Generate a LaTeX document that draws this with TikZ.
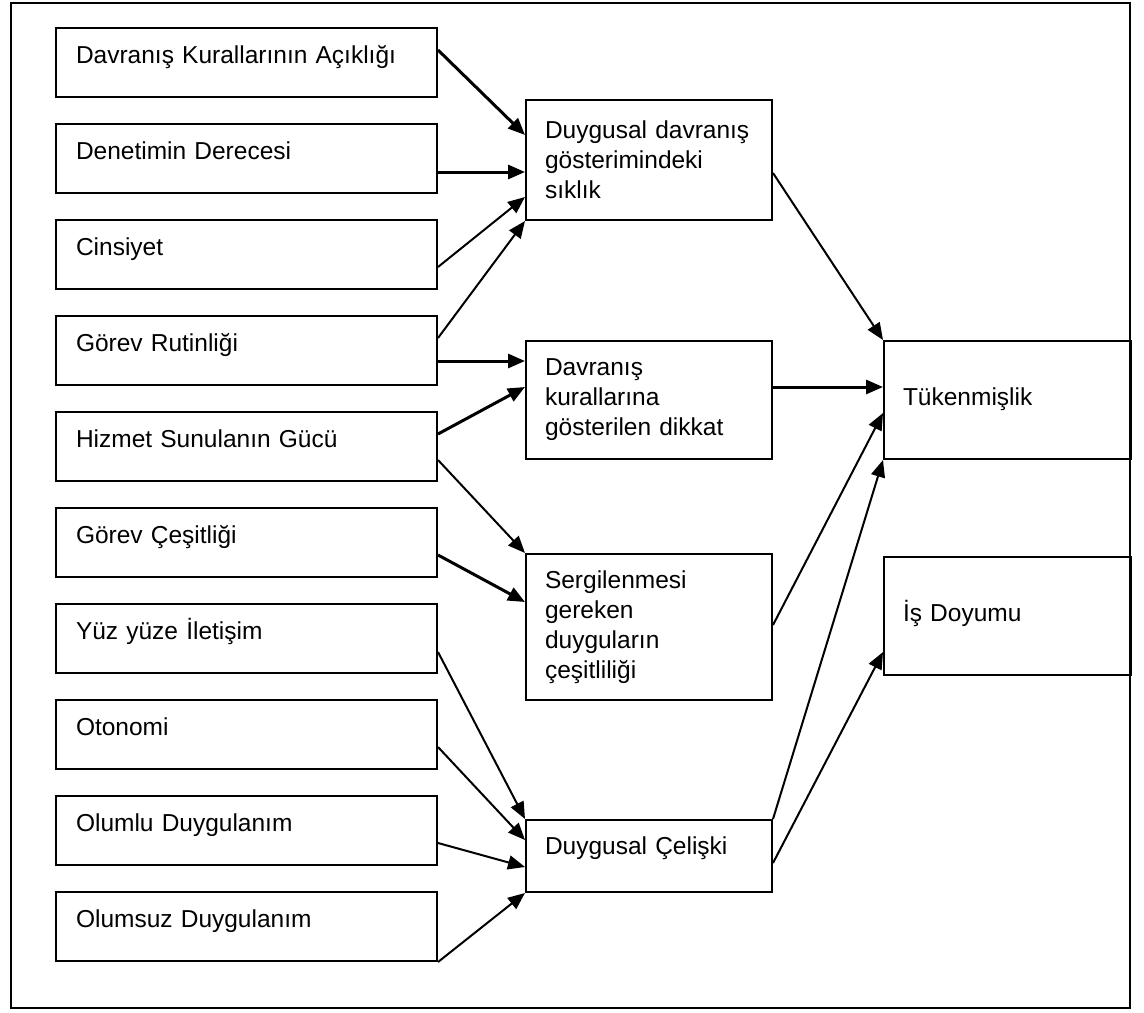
\documentclass[tikz,border=0pt]{standalone}
\usepackage{fontspec}
\setmainfont{Liberation Sans}
\usetikzlibrary{arrows.meta}

\begin{document}
\begin{tikzpicture}[x=0.5pt, y=-0.5pt,
    every node/.style={font=\fontsize{12.25}{15}\selectfont},
    factor/.style={draw, line width=1pt, anchor=north west, align=left,
        text width=170.5pt, inner xsep=10pt, inner ysep=0pt,
        text height=17.5pt, text depth=17pt},
    mediator/.style={draw, line width=1pt, anchor=north west, align=left,
        text width=104pt, inner xsep=9.5pt},
    outcome/.style={draw, line width=1pt, anchor=north west, align=left,
        text width=104.5pt, inner xsep=9.5pt, inner ysep=0pt,
        text height=32pt, text depth=27pt},
    link/.style={-{Triangle[length=8.5pt,width=7pt]}, line width=1pt},
    strong link/.style={link, line width=1.5pt}]

    % Outer frame
    \useasboundingbox (0,0) rectangle (1144,1012);
    \draw[line width=1pt] (11,3) rectangle (1130,1008);

    % Left column: antecedents
    \node[factor] (kural) at (55,27) {Davranış Kurallarının Açıklığı};
    \node[factor] (denetim) at (55,123) {Denetimin Derecesi};
    \node[factor] (cinsiyet) at (55,219) {Cinsiyet};
    \node[factor] (rutin) at (55,315) {Görev Rutinliği};
    \node[factor] (hizmet) at (55,411) {Hizmet Sunulanın Gücü};
    \node[factor] (cesit) at (55,507) {Görev Çeşitliği};
    \node[factor] (yuzyuze) at (55,603) {Yüz yüze İletişim};
    \node[factor] (otonomi) at (55,699) {Otonomi};
    \node[factor] (olumlu) at (55,795) {Olumlu Duygulanım};
    \node[factor] (olumsuz) at (55,891) {Olumsuz Duygulanım};

    % Middle column: emotional labour dimensions
    \node[mediator, minimum height=60pt] (siklik) at (525,99)
        {Duygusal davranış\\gösterimindeki\\sıklık};
    \node[mediator, minimum height=59pt] (dikkat) at (525,340)
        {Davranış\\kurallarına\\gösterilen dikkat};
    \node[mediator, minimum height=73pt] (cesitlilik) at (525,553)
        {Sergilenmesi\\gereken\\duyguların\\çeşitliliği};
    \node[mediator, inner ysep=0pt, text height=17pt, text depth=19pt]
        (celiski) at (525,819) {Duygusal Çelişki};

    % Right column: outcomes
    \node[outcome] (tukenme) at (883,340) {Tükenmişlik};
    \node[outcome] (doyum) at (883,556) {İş Doyumu};

    % Arrows into the middle column
    \draw[strong link] ([yshift=-11.5pt]kural.north east) -- ([yshift=-18pt]siklik.north west);
    \draw[strong link] ([yshift=-24.5pt]denetim.north east) -- ([yshift=-36.5pt]siklik.north west);
    \draw[link] ([yshift=-24pt]cinsiyet.north east) -- ([yshift=-49pt]siklik.north west);
    \draw[link] ([yshift=-11.5pt]rutin.north east) -- (siklik.south west);
    \draw[strong link] ([yshift=-23pt]rutin.north east) -- ([yshift=-10.5pt]dikkat.north west);
    \draw[strong link] ([yshift=-11.5pt]hizmet.north east) -- ([yshift=-23.5pt]dikkat.north west);
    \draw[link] ([yshift=-24.5pt]hizmet.north east) -- (cesitlilik.north west);
    \draw[strong link] ([yshift=-24pt]cesit.north east) -- ([yshift=-24.5pt]cesitlilik.north west);
    \draw[link] ([yshift=-24.5pt]yuzyuze.north east) -- (celiski.north west);
    \draw[link] ([yshift=-24pt]otonomi.north east) -- ([yshift=-10.5pt]celiski.north west);
    \draw[link] ([yshift=-24pt]olumlu.north east) -- ([yshift=-24pt]celiski.north west);
    \draw[link] (olumsuz.south east) -- (celiski.south west);

    % Arrows into the outcomes
    \draw[link] ([yshift=-37pt]siklik.north east) -- (tukenme.north west);
    \draw[strong link] ([yshift=-23.5pt]dikkat.north east) -- ([yshift=-23.5pt]tukenme.north west);
    \draw[link] ([yshift=-36pt]cesitlilik.north east) -- ([yshift=-36.5pt]tukenme.north west);
    \draw[link] (celiski.north east) -- (tukenme.south west);
    \draw[link] ([yshift=-22pt]celiski.north east) -- ([yshift=-48pt]doyum.north west);
\end{tikzpicture}
\end{document}
